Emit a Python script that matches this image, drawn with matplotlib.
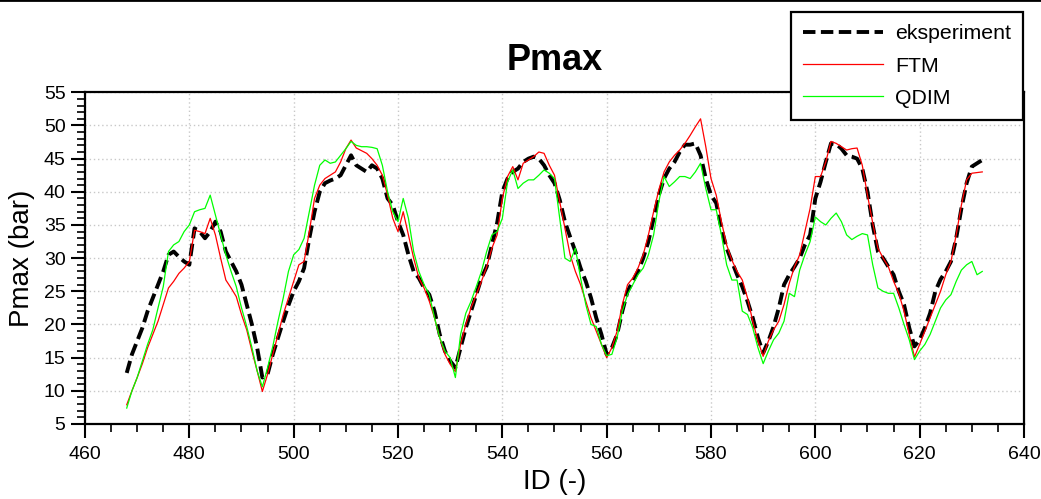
import matplotlib
matplotlib.use("Agg")
import matplotlib.pyplot as plt
from matplotlib.ticker import MultipleLocator
from matplotlib.lines import Line2D

plt.rcParams['font.family'] = ['Liberation Sans', 'DejaVu Sans']

# ---- data -------------------------------------------------------------
ids = list(range(468, 633))

eksperiment = [
    12.7, 15.5, 17.5, 19.5, 22.0, 24.0, 26.0, 28.0, 30.5, 31.0,   # 468-477
    30.2, 29.5, 29.0, 34.5, 34.0, 33.0, 34.0, 35.5, 34.0, 31.0,   # 478-487
    29.5, 28.0, 26.0, 23.0, 20.0, 16.5, 12.0, 12.5, 15.5, 18.0,   # 488-497
    20.5, 22.9, 25.0, 26.5, 28.5, 33.0, 37.0, 40.0, 41.3, 41.7,   # 498-507
    42.0, 42.5, 44.0, 45.5, 44.0, 43.5, 43.0, 44.0, 43.5, 42.0,   # 508-517
    39.0, 38.0, 35.5, 33.5, 30.5, 28.0, 27.0, 25.5, 24.5, 22.0,   # 518-527
    18.5, 16.0, 14.5, 13.5, 16.5, 19.5, 22.0, 24.5, 27.0, 28.7,   # 528-537
    32.0, 35.3, 40.0, 42.0, 43.0, 43.5, 44.5, 45.0, 45.3, 45.0,   # 538-547
    44.0, 42.5, 41.3, 38.8, 35.5, 33.2, 31.0, 28.5, 26.5, 24.0,   # 548-557
    21.0, 18.5, 15.5, 16.5, 18.5, 22.0, 25.0, 26.5, 28.0, 30.0,   # 558-567
    32.5, 36.0, 39.5, 42.0, 43.5, 44.5, 46.0, 47.1, 47.1, 47.3,   # 568-577
    45.5, 42.0, 39.5, 38.3, 34.5, 31.5, 29.5, 27.5, 25.7, 23.5,   # 578-587
    21.0, 18.0, 15.7, 17.5, 19.7, 22.5, 26.0, 27.5, 28.7, 30.0,   # 588-597
    32.0, 33.5, 39.0, 41.5, 44.5, 47.3, 47.2, 46.5, 45.5, 45.3,   # 598-607
    45.0, 43.5, 40.0, 35.0, 31.0, 30.0, 28.7, 27.5, 25.0, 23.0,   # 608-617
    19.5, 16.7, 17.7, 19.5, 21.7, 25.0, 26.8, 28.0, 29.5, 33.0,   # 618-627
    37.5, 41.3, 43.8, 44.3, 44.8,                                 # 628-632
]

ftm = [
    7.9, 10.0, 12.0, 14.1, 16.5, 18.5, 20.5, 23.0, 25.5, 26.5,    # 468-477
    27.7, 28.5, 29.5, 34.2, 34.0, 33.7, 36.0, 33.5, 30.0, 26.7,   # 478-487
    25.5, 24.2, 21.5, 19.2, 16.0, 13.0, 9.9, 12.5, 15.5, 18.5,    # 488-497
    21.5, 24.0, 26.5, 29.0, 29.5, 34.0, 39.0, 41.0, 42.0, 42.5,   # 498-507
    43.0, 44.5, 46.5, 47.8, 46.6, 46.2, 45.8, 45.0, 44.0, 42.5,   # 508-517
    39.5, 36.0, 34.0, 37.0, 33.5, 30.0, 27.0, 25.5, 23.5, 21.0,   # 518-527
    18.0, 15.5, 14.0, 12.9, 17.0, 20.0, 22.5, 24.5, 26.5, 28.7,   # 528-537
    31.5, 33.5, 39.0, 42.3, 43.8, 41.8, 44.3, 44.8, 45.3, 46.0,   # 538-547
    45.8, 44.0, 42.5, 38.5, 34.5, 30.5, 28.0, 26.0, 23.5, 21.0,   # 548-557
    19.0, 17.0, 15.0, 16.5, 19.0, 23.0, 26.0, 27.0, 28.5, 30.5,   # 558-567
    33.5, 37.0, 40.3, 43.0, 44.5, 45.5, 46.3, 47.3, 48.5, 49.8,   # 568-577
    51.0, 46.8, 42.0, 39.5, 35.5, 32.0, 29.7, 28.0, 26.7, 24.0,   # 578-587
    20.5, 17.5, 15.2, 17.5, 19.2, 20.5, 23.0, 26.2, 28.7, 30.5,   # 588-597
    34.0, 37.5, 42.3, 42.3, 44.5, 47.6, 47.3, 46.8, 46.3, 46.5,   # 598-607
    46.6, 44.0, 39.5, 35.3, 31.5, 30.0, 28.7, 26.5, 24.7, 22.0,   # 608-617
    18.5, 15.1, 17.0, 19.0, 21.0, 23.0, 25.0, 27.5, 29.5, 33.5,   # 618-627
    38.0, 41.8, 42.8, 42.9, 43.0,                                 # 628-632
]

qdim = [
    7.4, 10.0, 12.0, 14.5, 17.0, 19.2, 22.5, 25.7, 31.0, 32.0,    # 468-477
    32.5, 34.0, 35.0, 37.0, 37.3, 37.5, 39.5, 36.5, 33.5, 30.5,   # 478-487
    28.0, 25.7, 22.5, 19.7, 16.5, 13.0, 10.6, 13.5, 16.7, 20.5,   # 488-497
    24.0, 28.0, 30.5, 31.3, 33.0, 37.0, 41.0, 44.0, 44.8, 44.3,   # 498-507
    44.5, 45.5, 46.5, 47.6, 47.0, 46.8, 46.8, 46.7, 46.5, 44.0,   # 508-517
    40.0, 37.0, 35.5, 39.0, 36.0, 31.0, 28.0, 26.0, 24.5, 21.0,   # 518-527
    18.0, 16.0, 15.0, 12.0, 18.5, 21.7, 23.5, 25.7, 28.0, 31.0,   # 528-537
    33.5, 34.0, 36.0, 41.5, 43.3, 40.5, 41.3, 41.8, 41.8, 42.5,   # 538-547
    43.3, 42.8, 42.0, 36.0, 30.0, 29.5, 31.5, 27.0, 23.0, 20.0,   # 548-557
    19.7, 17.0, 15.3, 15.5, 18.0, 22.0, 24.5, 26.0, 27.5, 28.5,   # 558-567
    30.5, 33.5, 38.5, 42.3, 40.8, 41.5, 42.3, 42.3, 42.0, 43.0,   # 568-577
    44.3, 40.5, 37.3, 37.3, 33.5, 29.0, 26.7, 26.7, 22.0, 21.5,   # 578-587
    19.5, 16.5, 14.1, 16.0, 17.7, 18.7, 20.5, 24.7, 24.2, 28.2,   # 588-597
    30.5, 32.5, 36.2, 35.5, 35.0, 36.0, 36.8, 35.5, 33.5, 32.8,   # 598-607
    33.3, 33.7, 33.5, 29.0, 25.5, 25.0, 24.7, 24.7, 22.5, 20.0,   # 608-617
    17.7, 14.7, 16.0, 17.0, 18.5, 20.5, 22.5, 23.7, 24.5, 26.5,   # 618-627
    28.2, 29.0, 29.5, 27.5, 28.0,                                 # 628-632
]

series_labels = ["eksperiment", "FTM", "QDIM"]
title = "Pmax"
xlabel = "ID (-)"
ylabel = "Pmax (bar)"

# ---- figure -----------------------------------------------------------
W, H = 1041, 499
fig = plt.figure(figsize=(W / 100, H / 100), dpi=100)
ax = fig.add_axes([85 / W, 1 - 424 / H, 939 / W, (424 - 92.3) / H])

ax.plot(ids, eksperiment, color="black", lw=2.8, dashes=(3.2, 1.4),
        label=series_labels[0], zorder=3)
ax.plot(ids, ftm, color="#ff0000", lw=0.9, label=series_labels[1], zorder=4)
ax.plot(ids, qdim, color="#00ff00", lw=0.9, label=series_labels[2], zorder=5)

ax.set_xlim(460, 640)
ax.set_ylim(5, 55)
ax.xaxis.set_major_locator(MultipleLocator(20))
ax.xaxis.set_minor_locator(MultipleLocator(5))
ax.yaxis.set_major_locator(MultipleLocator(5))
ax.yaxis.set_minor_locator(MultipleLocator(1))

ax.grid(True, which="major", color="#c8c8c8", linestyle=(0, (1, 2)), lw=1.0)
ax.set_axisbelow(True)

for s in ax.spines.values():
    s.set_linewidth(1.6)
    s.set_color("black")

ax.tick_params(which="major", direction="out", length=10, width=1.5,
               labelsize=14, pad=4, colors="black")
ax.tick_params(which="minor", direction="out", length=6, width=1.2)
ax.tick_params(axis="x", which="major", pad=6)

ax.set_title(title, fontsize=26, fontweight="bold", pad=16)
ax.set_xlabel(xlabel, fontsize=20, labelpad=4)
ax.set_ylabel(ylabel, fontsize=20, labelpad=6)

leg = fig.legend(loc="upper left", bbox_to_anchor=(791 / W, 1 - 12 / H),
                 bbox_transform=fig.transFigure, borderaxespad=0,
                 fontsize=15.3, frameon=True, fancybox=False,
                 edgecolor="black", handlelength=3.76, handletextpad=0.56,
                 borderpad=0.57, labelspacing=0.63)
leg.get_frame().set_linewidth(1.6)
leg.get_frame().set_facecolor("white")
leg.get_frame().set_alpha(1.0)
leg.set_zorder(10)

# top border line of the original image
fig.add_artist(Line2D([0, 1], [0.999, 0.999], transform=fig.transFigure,
                      color="black", lw=2))

fig.savefig("out.png", dpi=100)
